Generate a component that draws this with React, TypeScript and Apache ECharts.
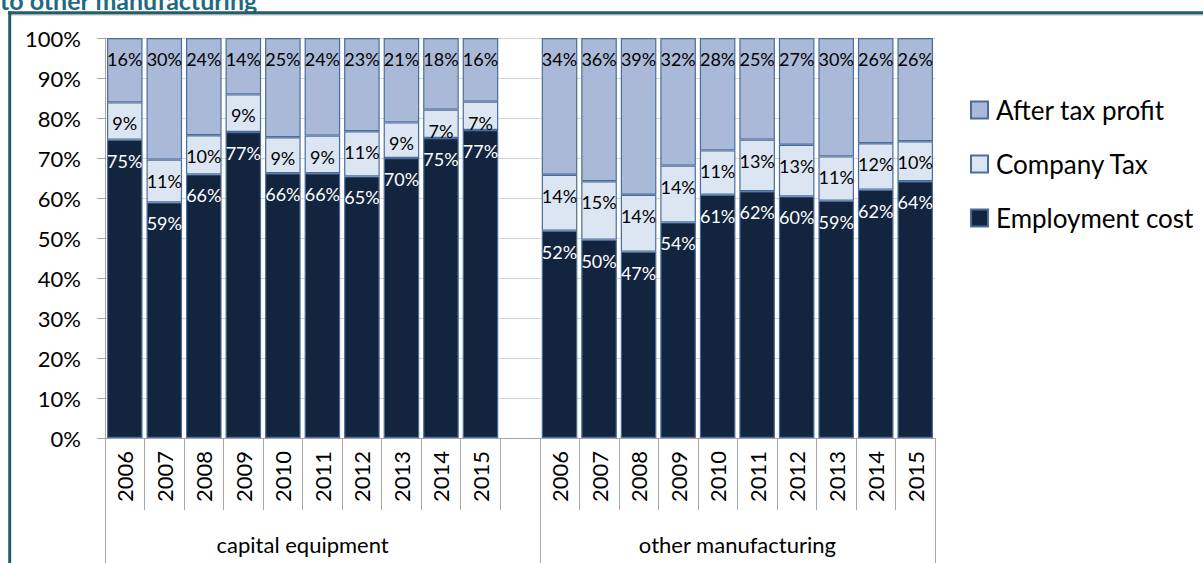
import React, { useEffect, useRef } from "react";
import * as echarts from "echarts";

const years = ["2006", "2007", "2008", "2009", "2010", "2011", "2012", "2013", "2014", "2015"];
const groups = ["capital equipment", "other manufacturing"];
const seriesNames = ["Employment cost", "Company Tax", "After tax profit"];
const yTicks = [0, 10, 20, 30, 40, 50, 60, 70, 80, 90, 100];

const capEmployment = [74.6, 58.9, 65.9, 76.5, 66.2, 66.2, 65.4, 70.0, 75.0, 77.0];
const capTax = [9.3, 10.7, 9.8, 9.4, 9.0, 9.4, 11.3, 8.9, 7.1, 7.1];
const capProfit = [16.1, 30.4, 24.3, 14.1, 24.8, 24.4, 23.3, 21.1, 17.9, 15.9];

const othEmployment = [51.8, 49.6, 46.6, 53.9, 60.8, 61.7, 60.4, 59.3, 62.1, 64.2];
const othTax = [14.0, 14.6, 14.2, 14.2, 11.1, 12.9, 12.9, 11.1, 11.6, 10.0];
const othProfit = [34.2, 35.8, 39.2, 31.9, 28.1, 25.4, 26.7, 29.6, 26.3, 25.8];

const FONT = "Lato, 'Open Sans', sans-serif";

export default function App() {
  const ref = useRef<HTMLDivElement>(null);

  useEffect(() => {
    if (!ref.current) return;
    const chart = echarts.init(ref.current, null, { renderer: "svg" });

    const categories = [...years, "", ...years];
    const join = (a: number[], b: number[]) => [...a, null, ...b];
    const dataSets = [
      join(capEmployment, othEmployment),
      join(capTax, othTax),
      join(capProfit, othProfit),
    ];
    const fills = ["#13243F", "#DCE6F2", "#AAB9D7"];
    const labelColors = ["#FFFFFF", "#000000", "#000000"];

    const groupBounds = [0, years.length + 1, categories.length];
    const groupCenters = [years.length / 2, years.length + 1 + years.length / 2];

    chart.setOption({
      animation: false,
      textStyle: { fontFamily: FONT },
      grid: { left: 105, right: 268, top: 38, bottom: 125, containLabel: false },
      legend: {
        orient: "vertical",
        left: 965,
        top: 90,
        itemWidth: 17,
        itemHeight: 17,
        itemGap: 24,
        icon: "rect",
        data: ["After tax profit", "Company Tax", "Employment cost"],
        textStyle: { fontSize: 26, fontFamily: FONT, color: "#000", lineHeight: 30, padding: [0, 0, 0, 3] },
      },
      xAxis: [
        {
          type: "category",
          data: categories,
          axisLine: { show: true, lineStyle: { color: "#A6A6A6", width: 1 } },
          axisTick: { show: true, interval: 0, length: 72, lineStyle: { color: "#A6A6A6" } },
          axisLabel: {
            interval: 0,
            rotate: 90,
            margin: 13,
            fontSize: 22,
            fontFamily: FONT,
            color: "#000",
          },
          splitLine: { show: false },
        },
        {
          type: "value",
          min: 0,
          max: categories.length,
          position: "bottom",
          axisLine: { show: false },
          splitLine: { show: false },
          axisTick: {
            show: true,
            customValues: groupBounds,
            length: 126,
            lineStyle: { color: "#A6A6A6" },
          },
          axisLabel: {
            show: true,
            customValues: groupCenters,
            margin: 95,
            fontSize: 22,
            fontFamily: FONT,
            color: "#000",
            formatter: (v: number) => groups[groupCenters.indexOf(v)] ?? "",
          },
        },
      ],
      yAxis: {
        type: "value",
        min: yTicks[0],
        max: yTicks[yTicks.length - 1],
        interval: yTicks[1] - yTicks[0],
        axisLine: { show: true, lineStyle: { color: "#A6A6A6" } },
        axisTick: { show: true, length: 8, lineStyle: { color: "#A6A6A6" } },
        axisLabel: {
          formatter: "{value}%",
          fontSize: 22,
          fontFamily: FONT,
          color: "#000",
          margin: 24,
        },
        splitLine: { show: true, lineStyle: { color: "#D4D4D4", width: 1 } },
      },
      series: seriesNames.map((name, i) => ({
        name,
        type: "bar",
        stack: "total",
        xAxisIndex: 0,
        barCategoryGap: "10%",
        data: dataSets[i],
        itemStyle: { color: fills[i], borderColor: "#4A6D9C", borderWidth: 1.2 },
        label: {
          show: true,
          position: "insideTop",
          distance: 12,
          fontSize: 18,
          fontFamily: FONT,
          color: labelColors[i],
          formatter: (p: any) => (p.value == null ? "" : Math.round(p.value) + "%"),
        },
      })),
      graphic: [
        {
          type: "text",
          left: 0,
          top: -13,
          style: {
            text: "to other manufacturing",
            fontSize: 25,
            fontWeight: "bold",
            fontFamily: FONT,
            fill: "#1F6A82",
          },
        },
        {
          type: "line",
          shape: { x1: 8, y1: 12.8, x2: 1210, y2: 12.8 },
          style: { stroke: "#215D73", lineWidth: 3 },
        },
        {
          type: "line",
          shape: { x1: 11, y1: 14.8, x2: 1210, y2: 14.8 },
          style: { stroke: "#9A9A9A", lineWidth: 1 },
        },
        {
          type: "line",
          shape: { x1: 9.7, y1: 11.3, x2: 9.7, y2: 570 },
          style: { stroke: "#215D73", lineWidth: 3 },
        },
      ],
    });

    return () => chart.dispose();
  }, []);

  return (
    <div
      ref={ref}
      style={{ position: "fixed", left: 0, top: 0, width: 1203, height: 563, background: "#fff" }}
    />
  );
}
